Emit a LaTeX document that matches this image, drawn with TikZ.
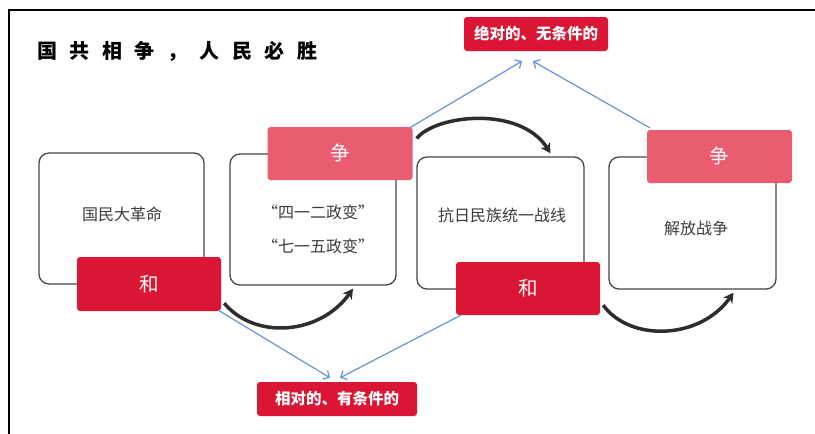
\documentclass[tikz,border=0pt]{standalone}
\usepackage{fontspec}
\setmainfont{Noto Sans CJK SC}
\usetikzlibrary{arrows.meta}
\definecolor{crimson}{RGB}{219,22,52}
\definecolor{pinkred}{RGB}{234,93,113}
\definecolor{arrowblue}{RGB}{100,150,215}
\definecolor{boxgray}{RGB}{70,70,70}
\definecolor{txtgray}{RGB}{60,60,60}
\definecolor{arcgray}{RGB}{45,45,45}
\tikzset{
  stagebox/.style={draw=boxgray, line width=1.3pt, rounded corners=10pt, fill=white, inner sep=0pt},
  hebox/.style={fill=crimson, rounded corners=3pt, minimum width=144pt, minimum height=54pt, text=white, font=\fontsize{19.5}{21}\selectfont, inner sep=0pt},
  zhengbox/.style={fill=pinkred, rounded corners=3pt, minimum width=145pt, minimum height=53pt, text=white, font=\fontsize{19.5}{21}\selectfont, inner sep=0pt},
  lab/.style={fill=crimson, rounded corners=3pt, text=white, font=\bfseries\fontsize{15.5}{18}\selectfont, inner sep=0pt, minimum height=34pt},
  boxtext/.style={text=txtgray, font=\fontsize{16}{18}\selectfont, inner sep=0pt},
  bluearrow/.style={draw=arrowblue, line width=1.2pt, -{Straight Barb[length=5pt,width=10pt]}},
  bigarrow/.style={draw=arcgray, line width=3.5pt, -{Stealth[length=10pt,width=11pt]}},
}
\begin{document}
\begin{tikzpicture}[x=1pt,y=-1pt]
\useasboundingbox (0,0) rectangle (815,434);
\fill[white] (0,0) rectangle (815,434);
% frame
\draw[line width=1.5pt, black] (9,434) -- (9,10) -- (815,10);
% title
\node[anchor=west, inner sep=0pt, font=\bfseries\fontsize{20}{22}\selectfont] (title) at (37,51)
  {国\hspace{12.5pt}共\hspace{12.5pt}相\hspace{12.5pt}争\hspace{12.5pt}，\hspace{12.5pt}人\hspace{12.5pt}民\hspace{12.5pt}必\hspace{12.5pt}胜};
% stage boxes
\node[stagebox, minimum width=165pt, minimum height=131pt] (box1) at (121.5,218.5) {};
\node[stagebox, minimum width=166pt, minimum height=131pt] (box2) at (313,219.5) {};
\node[stagebox, minimum width=167pt, minimum height=132pt] (box3) at (500.5,223) {};
\node[stagebox, minimum width=167pt, minimum height=132pt] (box4) at (692.5,223) {};
% texts
\node[boxtext] (t1) at (122,214) {国民大革命};
\node[boxtext] (t2a) at (318,212) {“四一二政变”};
\node[boxtext] (t2b) at (318,246) {“七一五政变”};
\node[boxtext] (t3) at (502,215) {抗日民族统一战线};
\node[boxtext] (t4) at (696,228) {解放战争};
% he / zheng
\node[hebox] (he1) at (149,284) {和};
\node[hebox, minimum height=53pt] (he2) at (528,288.5) {和};
\node[zhengbox] (zheng1) at (340,153.5) {争};
\node[zhengbox] (zheng2) at (719.5,156.5) {争};
% labels
\node[lab, minimum width=144pt] (top) at (536,34) {绝对的、无条件的};
\node[lab, minimum width=160pt] (bottom) at (337,399) {相对的、有条件的};
% blue arrows
\draw[bluearrow] ([shift={(-3,1)}]zheng1.north east) -- ([shift={(-14,10)}]top.south);
\draw[bluearrow] ([shift={(3,-2)}]zheng2.north west) -- ([shift={(-3,10)}]top.south);
\draw[bluearrow] ([shift={(-3,-1)}]he1.south east) -- ([shift={(-7,-4)}]bottom.north);
\draw[bluearrow] ([shift={(5,0)}]he2.south west) -- ([shift={(3,-4)}]bottom.north);
% black arcs
\draw[bigarrow] ([shift={(3,-8)}]he1.south east) .. controls (255,340) and (320,335) .. ([shift={(40,3)}]box2.south);
\draw[bigarrow] ([shift={(4,-15)}]zheng1.east) .. controls (435,115) and (520,105) .. ([shift={(50,-3)}]box3.north);
\draw[bigarrow] ([shift={(3,-10)}]he2.south east) .. controls (630,342) and (700,340) .. ([shift={(41,3)}]box4.south);
\end{tikzpicture}
\end{document}
